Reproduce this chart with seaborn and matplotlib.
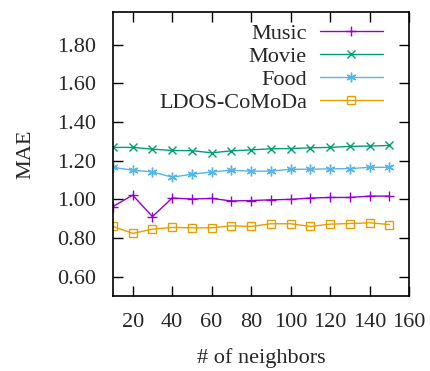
import matplotlib
matplotlib.use("Agg")
import matplotlib.pyplot as plt
import seaborn as sns
import pandas as pd

neighbors = [10, 20, 30, 40, 50, 60, 70, 80, 90, 100, 110, 120, 130, 140, 150]
music = [0.963, 1.022, 0.911, 1.007, 1.002, 1.005, 0.992, 0.994, 0.998, 1.000, 1.007, 1.010, 1.010, 1.017, 1.017]
movie = [1.269, 1.269, 1.260, 1.253, 1.252, 1.241, 1.251, 1.256, 1.262, 1.263, 1.267, 1.269, 1.274, 1.276, 1.279]
food = [1.166, 1.151, 1.142, 1.115, 1.130, 1.142, 1.151, 1.146, 1.146, 1.156, 1.156, 1.158, 1.159, 1.166, 1.166]
ldos = [0.860, 0.824, 0.846, 0.855, 0.853, 0.853, 0.863, 0.860, 0.874, 0.874, 0.860, 0.872, 0.875, 0.879, 0.870]
series_names = ["Music", "Movie", "Food", "LDOS-CoMoDa"]
xticks = [20, 40, 60, 80, 100, 120, 140, 160]
yticks = [0.6, 0.8, 1.0, 1.2, 1.4, 1.6, 1.8]

sns.set_style("ticks")
plt.rcParams["font.family"] = ["Liberation Serif", "DejaVu Serif"]

rows = []
for name, vals in zip(series_names, [music, movie, food, ldos]):
    for x, v in zip(neighbors, vals):
        rows.append({"neighbors": x, "MAE": v, "series": name})
df = pd.DataFrame(rows)

palette = {"Music": "#9400d3", "Movie": "#009e73", "Food": "#56b4e9", "LDOS-CoMoDa": "#e69f00"}
markers = {"Music": "+", "Movie": "x", "Food": (6, 2, 0), "LDOS-CoMoDa": "s"}
sizes = {"Music": 7, "Movie": 6, "Food": 7, "LDOS-CoMoDa": 6}

fig = plt.figure(figsize=(4.31, 3.71), dpi=100)
ax = fig.add_axes([0.262, 0.202, 0.687, 0.766])

for name in series_names:
    sub = df[df["series"] == name]
    c = palette[name]
    kw = dict(markersize=sizes[name], markeredgewidth=1.0, markeredgecolor=c)
    if name == "LDOS-CoMoDa":
        kw["markerfacecolor"] = "none"
    sns.lineplot(data=sub, x="neighbors", y="MAE", ax=ax, color=c,
                 marker=markers[name], linewidth=1.0, label=name, **kw)

ax.set_xlim(10, 160)
ax.set_ylim(0.5, 1.97)
ax.set_xticks(xticks)
ax.set_yticks(yticks)
ax.set_yticklabels([f"{t:.2f}" for t in yticks])
ax.tick_params(direction="in", length=7, width=1, top=True, right=True,
               labelsize=16, color="black")
ax.tick_params(axis="y", pad=12)
ax.tick_params(axis="x", pad=12)
for s in ax.spines.values():
    s.set_linewidth(1.2)
    s.set_color("black")
ax.set_xlabel("# of neighbors", fontsize=16, labelpad=12)
ax.set_ylabel("MAE", fontsize=16, labelpad=16)

ax.legend(loc="upper right", frameon=False, markerfirst=False, fontsize=16,
          handlelength=2.8, labelspacing=0.12, handletextpad=0.6,
          borderaxespad=0.1, bbox_to_anchor=(0.948, 1.0))

fig.savefig("out.png", dpi=100)
